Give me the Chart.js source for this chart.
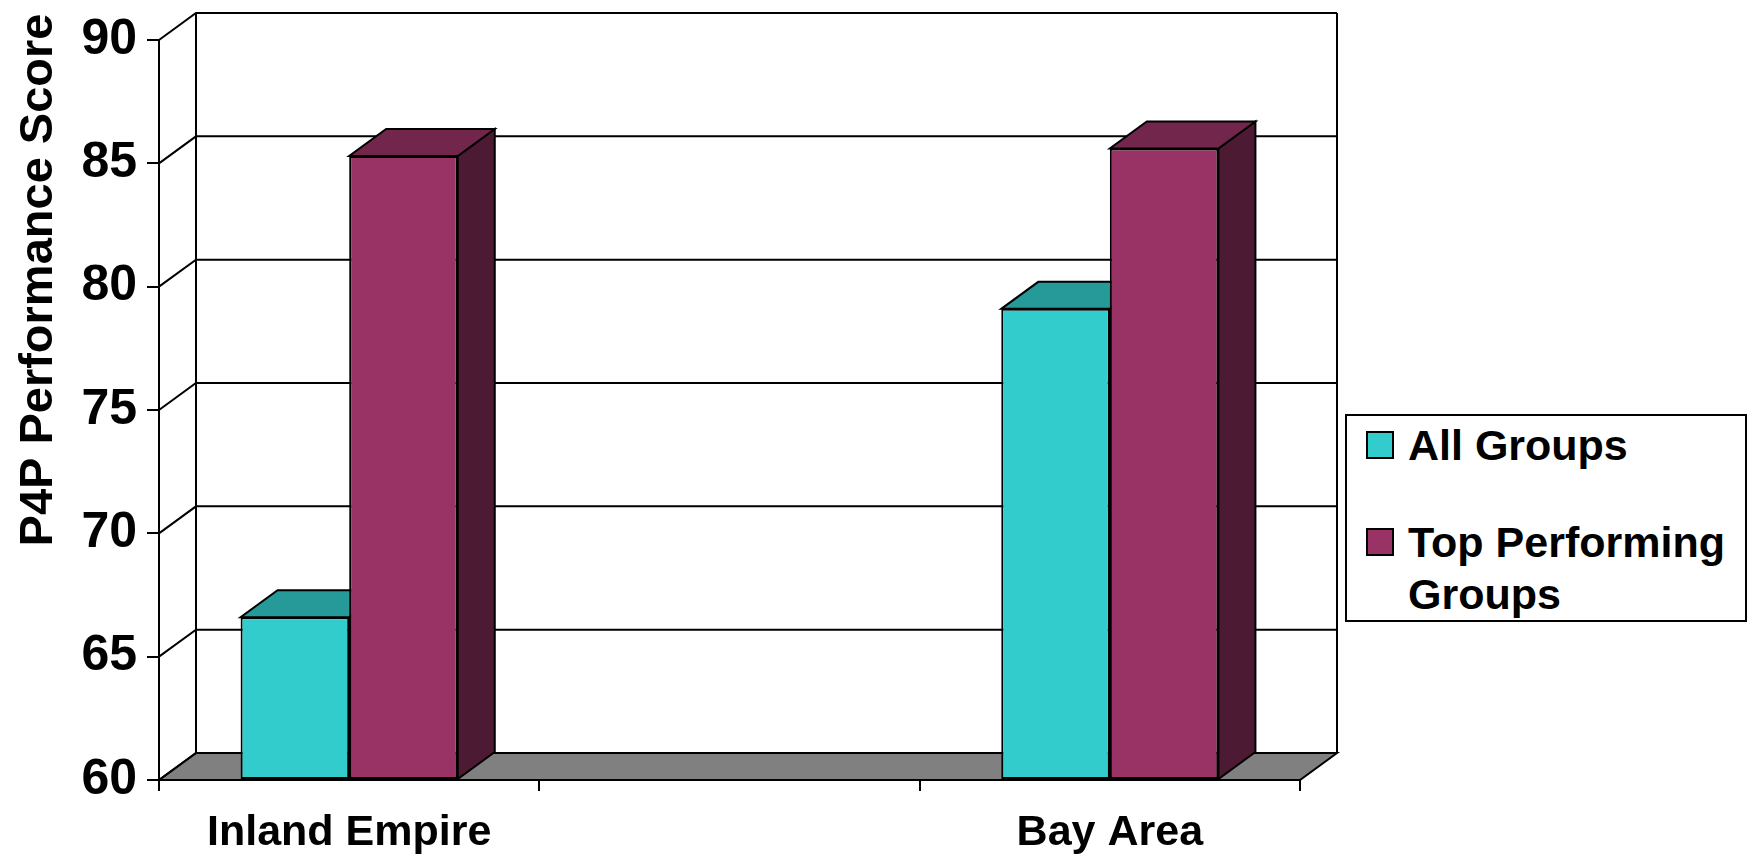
<!DOCTYPE html>
<html>
<head>
<meta charset="utf-8">
<title>P4P Performance Score</title>
<script src="https://cdn.jsdelivr.net/npm/chart.js@4.4.1/dist/chart.umd.min.js"></script>
<style>
    html, body {
        margin: 0;
        padding: 0;
        background: #ffffff;
    }

    #wrap {
        position: relative;
        width: 1756px;
        height: 856px;
    }

    #legend {
        position: absolute;
        left: 1345px;
        top: 414px;
        width: 398px;
        height: 204px;
        border: 2px solid #000;
        background: #fff;
        font-family: "Liberation Sans", Arial, sans-serif;
        font-weight: bold;
        font-size: 43px;
        line-height: 52px;
        color: #000;
    }

    #legend .item {
        position: relative;
        margin-left: 61px;
        width: 335px;
        margin-bottom: 45px;
    }

    #legend .item:first-child {
        margin-top: 3px;
    }

    #legend .swatch {
        position: absolute;
        left: -42px;
        top: 12px;
        width: 24px;
        height: 24px;
        border: 2px solid #000;
    }
</style>
</head>
<body>
<div id="wrap">
    <canvas id="scoreChart" width="1756" height="856"></canvas>
    <div id="legend"></div>
</div>

<script>
// DATA
const categories = ["Inland Empire", "", "Bay Area"];
const allGroups = [66.6, null, 79.1];
const topGroups = [85.3, null, 85.6];
const seriesNames = ["All Groups", "Top Performing Groups"];
const yTicks = [60, 65, 70, 75, 80, 85, 90];
const yTitle = "P4P Performance Score";

// COLORS (front, top, side)
const frontColors = ["#33CCCC", "#993366"];
const topColors = ["#269999", "#72264C"];
const sideColors = ["#1A6666", "#4D1A33"];

const FONT = '"Liberation Sans", Arial, sans-serif';

// depth of the fake 3d box
const DX = 37;
const DY = -27;

function poly(ctx, pts) {
    ctx.beginPath();
    ctx.moveTo(pts[0][0], pts[0][1]);
    for (let i = 1; i < pts.length; i++) {
        ctx.lineTo(pts[i][0], pts[i][1]);
    }
    ctx.closePath();
    ctx.fill();
    ctx.stroke();
}

// walls, floor, gridlines and the top/side faces of the bars
const depthPlugin = {
    id: "depth3d",

    beforeDatasetsDraw(chart) {
        const { ctx, chartArea: a } = chart;
        const y = chart.scales.y;

        ctx.save();
        ctx.lineWidth = 2;
        ctx.strokeStyle = "#000";
        ctx.lineJoin = "miter";

        // floor
        ctx.fillStyle = "#808080";
        poly(ctx, [
            [a.left, a.bottom],
            [a.right, a.bottom],
            [a.right + DX, a.bottom + DY],
            [a.left + DX, a.bottom + DY]
        ]);

        // left wall connectors + back wall gridlines
        y.ticks.forEach(t => {
            const py = y.getPixelForValue(t.value);
            ctx.beginPath();
            ctx.moveTo(a.left, py);
            ctx.lineTo(a.left + DX, py + DY);
            if (t.value !== y.min) {
                ctx.lineTo(a.right + DX, py + DY);
            }
            ctx.stroke();
        });

        // back wall edges
        ctx.beginPath();
        ctx.moveTo(a.left + DX, a.top + DY);
        ctx.lineTo(a.left + DX, a.bottom + DY);
        ctx.moveTo(a.right + DX, a.top + DY);
        ctx.lineTo(a.right + DX, a.bottom + DY);
        ctx.stroke();

        // bar sides and tops (fronts are drawn by Chart.js on top)
        chart.data.datasets.forEach((ds, i) => {
            const meta = chart.getDatasetMeta(i);
            meta.data.forEach((bar, j) => {
                if (ds.data[j] == null) return;
                const p = bar.getProps(["x", "y", "base", "width"], true);
                const l = p.x - p.width / 2;
                const r = p.x + p.width / 2;

                ctx.fillStyle = sideColors[i];
                poly(ctx, [
                    [r, p.y],
                    [r + DX, p.y + DY],
                    [r + DX, p.base + DY],
                    [r, p.base]
                ]);

                ctx.fillStyle = topColors[i];
                poly(ctx, [
                    [l, p.y],
                    [r, p.y],
                    [r + DX, p.y + DY],
                    [l + DX, p.y + DY]
                ]);
            });
        });

        ctx.restore();
    }
};

// rotated y axis title, sitting higher than the axis middle
const yTitlePlugin = {
    id: "yTitle",

    afterDraw(chart) {
        const ctx = chart.ctx;
        ctx.save();
        ctx.translate(52, 280);
        ctx.rotate(-Math.PI / 2);
        ctx.font = "bold 47px " + FONT;
        ctx.fillStyle = "#000";
        ctx.textAlign = "center";
        ctx.textBaseline = "alphabetic";
        ctx.fillText(yTitle, 0, 0, 538);
        ctx.restore();
    }
};

const datasets = [allGroups, topGroups].map((values, i) => {
    return {
        label: seriesNames[i],
        data: values,
        base: yTicks[0],
        backgroundColor: frontColors[i],
        borderColor: "#000",
        borderWidth: 2,
        borderSkipped: false
    };
});

const ctx =
    document
        .getElementById("scoreChart")
        .getContext("2d");

const scoreChart = new Chart(ctx, {
    type: "bar",

    data: {
        labels: categories,
        datasets
    },

    plugins: [depthPlugin, yTitlePlugin],

    options: {
        responsive: false,
        animation: false,
        devicePixelRatio: 1,

        categoryPercentage: 0.571,
        barPercentage: 1,

        layout: {
            padding: { left: 0, top: 40, right: 456, bottom: 0 }
        },

        plugins: {
            legend: { display: false },
            tooltip: { enabled: false }
        },

        scales: {
            x: {
                afterFit(scale) {
                    scale.height = 76;
                },
                ticks: {
                    color: "#000",
                    padding: 21,
                    autoSkip: false,
                    maxRotation: 0,
                    font: { family: FONT, size: 43, weight: "bold", lineHeight: 1 }
                },
                grid: {
                    offset: true,
                    drawOnChartArea: false,
                    drawTicks: true,
                    tickLength: 11,
                    color: "#000",
                    lineWidth: 2
                },
                border: { display: true, color: "#000", width: 2 }
            },

            y: {
                min: yTicks[0],
                max: yTicks[yTicks.length - 1],
                afterFit(scale) {
                    scale.width = 159;
                },
                ticks: {
                    stepSize: yTicks[1] - yTicks[0],
                    color: "#000",
                    padding: 10,
                    font: { family: FONT, size: 50, weight: "bold" }
                },
                grid: {
                    drawOnChartArea: false,
                    drawTicks: true,
                    tickLength: 12,
                    color: "#000",
                    lineWidth: 2
                },
                border: { display: true, color: "#000", width: 2 }
            }
        }
    }
});

// HTML legend built from the datasets
const legendEl = document.getElementById("legend");
scoreChart.data.datasets.forEach(ds => {
    const item = document.createElement("div");
    item.className = "item";

    const swatch = document.createElement("span");
    swatch.className = "swatch";
    swatch.style.background = ds.backgroundColor;

    item.appendChild(swatch);
    item.appendChild(document.createTextNode(ds.label));
    legendEl.appendChild(item);
});
</script>
</body>
</html>
